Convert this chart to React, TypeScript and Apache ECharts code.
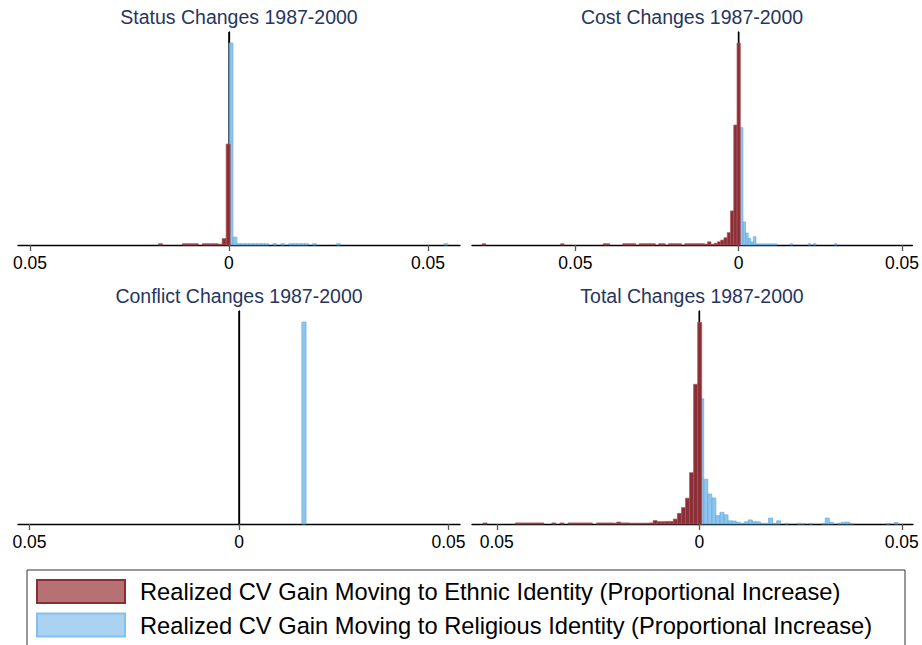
import React, { useEffect, useRef } from "react";
import * as echarts from "echarts";

const ETHNIC = "Realized CV Gain Moving to Ethnic Identity (Proportional Increase)";
const RELIGIOUS = "Realized CV Gain Moving to Religious Identity (Proportional Increase)";
const legendNames = [ETHNIC, RELIGIOUS];

const panelTitles = [
  "Status Changes 1987-2000",
  "Cost Changes 1987-2000",
  "Conflict Changes 1987-2000",
  "Total Changes 1987-2000",
];
const tickValues = [-0.05, 0, 0.05];
const tickLabels = ["0.05", "0", "0.05"];
const xMins = [-0.053, -0.08165, -0.05274, -0.05612];
const xMaxs = [0.05804, 0.05321, 0.05274, 0.05277];
const yMax = 100;

// Histograms: left edge of first bin, bin width, bar heights (share of plot height)
const statusEthnicStart = -0.0177;
const statusEthnicWidth = 0.001;
const statusEthnicHeights = [0.6, 0, 0, 0, 0, 0, 0.6, 0.6, 0.6, 0.6, 0, 0.6, 0.6, 0.6, 0.6, 0.4, 3.0, 47.4];
const statusReligiousStart = 0;
const statusReligiousWidth = 0.001;
const statusReligiousHeights = [
  94.8, 3.7, 0.6, 0.6, 0.6, 0.6, 0.6, 0.6, 0.6, 0.6,
  0, 0.6, 0, 0.6, 0, 0.6, 0.6, 0.6, 0.6, 0.6,
  0, 0.6, 0, 0, 0, 0, 0, 0.6, 0, 0,
  0, 0, 0, 0, 0, 0, 0, 0, 0, 0,
  0, 0, 0, 0, 0, 0, 0, 0, 0, 0,
  0, 0, 0, 0, 0.6,
];

const costEthnicStart = -0.0785;
const costEthnicWidth = 0.001;
const costEthnicHeights = [
  0.6, 0, 0, 0, 0, 0, 0, 0, 0, 0,
  0, 0, 0, 0, 0, 0, 0, 0, 0, 0,
  0, 0, 0, 0, 0.6, 0, 0, 0, 0, 0,
  0, 0, 0, 0, 0, 0, 0, 0.6, 0.6, 0,
  0, 0, 0, 0.6, 0.6, 0.6, 0.6, 0, 0.6, 0.6,
  0.6, 0.6, 0.6, 0, 0.6, 0.6, 0, 0.6, 0.6, 0.6,
  0.6, 0, 0.6, 0.6, 0.6, 0.6, 0.6, 0.6, 0.4, 1.5,
  0.35, 0.8, 1.5, 2.3, 3.4, 5.8, 16.0, 56.3, 94.8,
];
const costReligiousStart = 0.0005;
const costReligiousWidth = 0.0008;
const costReligiousHeights = [
  55.1, 10.8, 5.6, 3.1, 1.4, 3.9, 0.5, 0.5, 0.5, 0.5,
  0.5, 0.5, 0.5, 0.5, 0, 0, 0, 0, 0, 0.6,
  0, 0, 0, 0, 0, 0, 0.6, 0, 0.6, 0,
  0, 0, 0, 0, 0, 0, 0.6,
];

const conflictEthnicStart = 0;
const conflictEthnicWidth = 0.001;
const conflictEthnicHeights: number[] = [];
const conflictReligiousStart = 0.015;
const conflictReligiousWidth = 0.001;
const conflictReligiousHeights = [94.8];

const totalEthnicStart = -0.0534;
const totalEthnicWidth = 0.001;
const totalEthnicHeights = [
  0.5, 0, 0, 0, 0, 0, 0, 0, 0.5, 0.5,
  0.5, 0.5, 0.5, 0.5, 0.5, 0, 0, 0.5, 0, 0.5,
  0, 0.5, 0.5, 0.5, 0.5, 0.5, 0.5, 0, 0.5, 0.5,
  0.5, 0.5, 0.4, 0.9, 0.5, 0.5, 0.4, 0.4, 0.4, 0.4,
  0.4, 0.5, 1.6, 1.1, 1.1, 1.2, 1.2, 2.3, 5.0, 7.7,
  12.1, 24.1, 65.6, 94.7,
];
const totalReligiousStart = 0.0001;
const totalReligiousWidth = 0.001;
const totalReligiousHeights = [
  58.8, 21.0, 14.1, 12.2, 3.9, 5.5, 4.3, 1.5, 1.4, 0.8,
  0.3, 1.0, 1.9, 1.1, 1.0, 0.3, 0.3, 2.8, 0.3, 1.5,
  0, 0.3, 0, 0, 0.3, 0.3, 0, 0.3, 0, 0,
  0.3, 2.8, 0.8, 0, 0.4, 0.8, 0.9, 0.3, 0, 0,
  0, 0, 0, 0, 0, 0, 0.3, 0, 0.7,
];

const ethnicSets = [
  [statusEthnicStart, statusEthnicWidth, statusEthnicHeights],
  [costEthnicStart, costEthnicWidth, costEthnicHeights],
  [conflictEthnicStart, conflictEthnicWidth, conflictEthnicHeights],
  [totalEthnicStart, totalEthnicWidth, totalEthnicHeights],
] as [number, number, number[]][];
const religiousSets = [
  [statusReligiousStart, statusReligiousWidth, statusReligiousHeights],
  [costReligiousStart, costReligiousWidth, costReligiousHeights],
  [conflictReligiousStart, conflictReligiousWidth, conflictReligiousHeights],
  [totalReligiousStart, totalReligiousWidth, totalReligiousHeights],
] as [number, number, number[]][];

const FONT = "'Liberation Sans', Arial, Helvetica, sans-serif";
const grids = [
  { left: 18, top: 32, width: 442, height: 213 },
  { left: 472, top: 32, width: 441, height: 213 },
  { left: 18, top: 311, width: 442, height: 213 },
  { left: 472, top: 311, width: 441, height: 213 },
];
const titleCenters = [239, 692, 239, 692];
const titleTops = [7, 7, 286, 286];
const legendFills = ["#b57174", "#a9d3f1"];
const legendBorders = ["#8c2c33", "#84c0eb"];

function toBins(start: number, width: number, heights: number[]) {
  const out: number[][] = [];
  heights.forEach((h, i) => {
    if (h > 0) out.push([start + i * width, start + (i + 1) * width, h]);
  });
  return out;
}

function histRender(fill: string, stroke: string) {
  return (_p: any, api: any) => {
    const a = api.coord([api.value(0), 0]);
    const b = api.coord([api.value(1), api.value(2)]);
    return {
      type: "rect",
      shape: { x: a[0], y: b[1], width: b[0] - a[0], height: a[1] - b[1] },
      style: { fill, stroke, lineWidth: 0.7 },
    };
  };
}

export default function App() {
  const ref = useRef<HTMLDivElement>(null);
  useEffect(() => {
    if (!ref.current) return;
    const chart = echarts.init(ref.current, null, { renderer: "svg" });
    const series: any[] = [];
    for (let i = 0; i < 4; i++) {
      series.push({
        type: "custom",
        xAxisIndex: i,
        yAxisIndex: i,
        silent: true,
        z: 1,
        data: [[0, 0]],
        encode: { x: 0, y: 1 },
        renderItem: (_p: any, api: any) => {
          const a = api.coord([0, 0]);
          const b = api.coord([0, yMax]);
          return {
            type: "line",
            shape: { x1: a[0], y1: a[1], x2: b[0], y2: b[1] },
            style: { stroke: "#000", lineWidth: 1.5 },
          };
        },
      });
      const [rs, rw, rh] = religiousSets[i];
      series.push({
        type: "custom",
        name: RELIGIOUS,
        xAxisIndex: i,
        yAxisIndex: i,
        silent: true,
        z: 2,
        data: toBins(rs, rw, rh),
        encode: { x: [0, 1], y: 2 },
        renderItem: histRender("rgba(114,183,231,0.8)", "#6aade2"),
      });
      const [es, ew, eh] = ethnicSets[i];
      series.push({
        type: "custom",
        name: ETHNIC,
        xAxisIndex: i,
        yAxisIndex: i,
        silent: true,
        z: 3,
        data: toBins(es, ew, eh),
        encode: { x: [0, 1], y: 2 },
        renderItem: histRender("#8b2f37", "#a9535a"),
      });
    }
    const legendGraphic: any[] = [
      {
        type: "rect",
        shape: { x: 27, y: 570, width: 878, height: 90 },
        style: { fill: "#fff", stroke: "#333", lineWidth: 1 },
        silent: true,
      },
    ];
    legendNames.forEach((name, i) => {
      const y = 580 + i * 33.5;
      legendGraphic.push({
        type: "rect",
        shape: { x: 37, y, width: 88, height: 23 },
        style: { fill: legendFills[i], stroke: legendBorders[i], lineWidth: 2 },
        silent: true,
      });
      legendGraphic.push({
        type: "text",
        x: 140,
        y: y + 12,
        style: {
          text: name,
          fontSize: 23.7,
          fontFamily: FONT,
          fill: "#000",
          verticalAlign: "middle",
          align: "left",
        },
        silent: true,
      });
    });
    const option: any = {
      animation: false,
      backgroundColor: "#fff",
      title: panelTitles.map((t, i) => ({
        text: t,
        left: titleCenters[i],
        top: titleTops[i],
        textAlign: "center",
        padding: 0,
        textStyle: { fontSize: 19.5, fontWeight: "normal", color: "#26365e", fontFamily: FONT },
      })),
      grid: grids.map((g) => ({ ...g, containLabel: false })),
      xAxis: grids.map((_g, i) => ({
        type: "value",
        gridIndex: i,
        min: xMins[i],
        max: xMaxs[i],
        axisLine: { show: true, onZero: false, lineStyle: { color: "#000", width: 1.3 } },
        axisTick: { show: true, customValues: tickValues, length: 6, lineStyle: { color: "#555", width: 1.3 } },
        axisLabel: {
          customValues: tickValues,
          margin: 9,
          fontSize: 17.5,
          color: "#000",
          fontFamily: FONT,
          formatter: (v: number) => {
            const k = tickValues.findIndex((t) => Math.abs(t - v) < 1e-9);
            return k >= 0 ? tickLabels[k] : "";
          },
        },
        splitLine: { show: false },
      })),
      yAxis: grids.map((_g, i) => ({
        type: "value",
        gridIndex: i,
        min: 0,
        max: yMax,
        axisLine: { show: true, lineStyle: { color: "#000", width: 1.3 } },
        axisTick: { show: false },
        axisLabel: { show: false },
        splitLine: { show: false },
      })),
      graphic: legendGraphic,
      series,
    };
    chart.setOption(option);
    return () => chart.dispose();
  }, []);
  return <div ref={ref} style={{ position: "absolute", left: 0, top: 0, width: 922, height: 645 }} />;
}
